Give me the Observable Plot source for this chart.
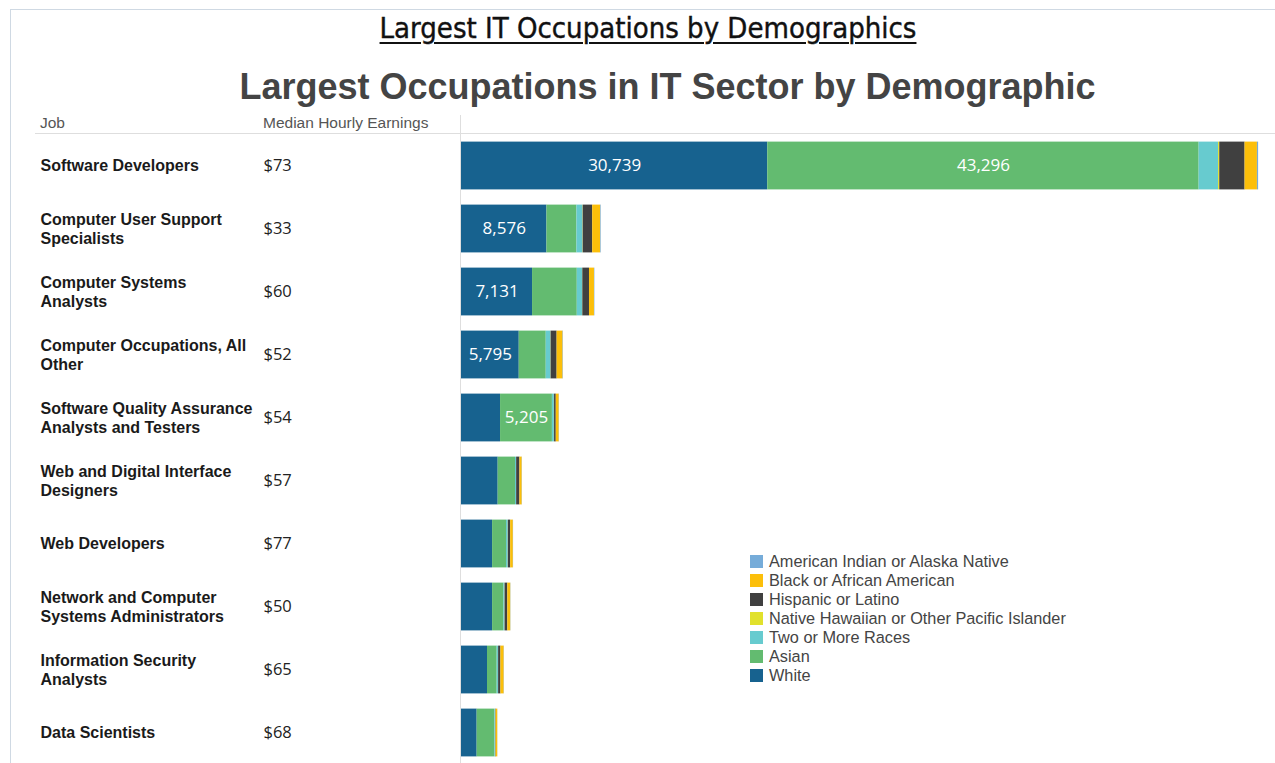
<!DOCTYPE html>
<html>
<head>
<meta charset="utf-8">
<script src="https://cdn.jsdelivr.net/npm/d3@7"></script>
<script src="https://cdn.jsdelivr.net/npm/@observablehq/plot@0.6"></script>
<style>
  html, body { margin: 0; padding: 0; background: #fff; }
  #page { position: relative; width: 1275px; height: 763px; overflow: hidden; background: #fff; }
  #frame { position: absolute; left: 10px; top: 9px; width: 1280px; height: 800px; border-left: 1px solid #cfd9e3; border-top: 1px solid #cfd9e3; }
  #title { position: absolute; left: 0; width: 1296px; top: 11px; text-align: center; font-family: "Liberation Sans Narrow", "DejaVu Sans Condensed", "Liberation Sans", sans-serif; font-size: 29px; font-weight: 500; color: #111; text-decoration: underline; text-decoration-thickness: 2px; text-underline-offset: 4px; -webkit-text-stroke: 0.4px #111; }
  #subtitle { position: absolute; left: 0; width: 1335px; top: 66px; text-align: center; font-family: "Liberation Sans", Arial, sans-serif; font-weight: bold; font-size: 36px; color: #444; }
  .hdr { position: absolute; top: 114px; font-family: "Liberation Sans", Arial, sans-serif; font-size: 15.5px; color: #555; }
  #hline { position: absolute; left: 35px; top: 133px; width: 1240px; height: 1px; background: #dedede; }
  #vline { position: absolute; left: 460px; top: 115px; width: 1px; height: 660px; background: #dedede; z-index: 2; }
  #chart { position: absolute; left: 0; top: 133px; }
  #legend { position: absolute; left: 750px; top: 552px; font-family: "Liberation Sans", Arial, sans-serif; font-size: 16.3px; color: #444; }
  .item { display: flex; align-items: center; height: 19px; }
  .sw { width: 13px; height: 13px; margin-right: 6px; }
</style>
</head>
<body>
<div id="page">
  <div id="frame"></div>
  <div id="title">Largest IT Occupations by Demographics</div>
  <div id="subtitle">Largest Occupations in IT Sector by Demographic</div>
  <div class="hdr" style="left:40px">Job</div>
  <div class="hdr" style="left:263px">Median Hourly Earnings</div>
  <div id="hline"></div>
  <div id="chart"></div>
  <div id="vline"></div>
  <div id="legend"></div>
</div>
<script>
// ---- data ----
const jobs = [
  "Software Developers",
  "Computer User Support\nSpecialists",
  "Computer Systems\nAnalysts",
  "Computer Occupations, All\nOther",
  "Software Quality Assurance\nAnalysts and Testers",
  "Web and Digital Interface\nDesigners",
  "Web Developers",
  "Network and Computer\nSystems Administrators",
  "Information Security\nAnalysts",
  "Data Scientists"
];
const earnings = ["$73", "$33", "$60", "$52", "$54", "$57", "$77", "$50", "$65", "$68"];

// stack order (left to right)
const races = ["White", "Asian", "Two or More Races", "Native Hawaiian or Other Pacific Islander", "Hispanic or Latino", "Black or African American", "American Indian or Alaska Native"];
const white          = [30739, 8576, 7131, 5795, 3920, 3680, 3120, 3120, 2610, 1570];
const asian          = [43296, 3010, 4490, 2710, 5205, 1740, 1400, 1140, 970, 1770];
const twoOrMore      = [1950, 600, 530, 470, 200, 100, 170, 100, 130, 70];
const nativeHawaiian = [120, 30, 25, 20, 15, 15, 15, 15, 15, 10];
const hispanic       = [2540, 950, 670, 600, 170, 330, 230, 270, 230, 50];
const black          = [1240, 800, 500, 600, 300, 230, 270, 300, 330, 170];
const americanIndian = [120, 60, 40, 40, 20, 20, 20, 20, 20, 10];
const series = [white, asian, twoOrMore, nativeHawaiian, hispanic, black, americanIndian];

// legend order & colours
const legendOrder = ["American Indian or Alaska Native", "Black or African American", "Hispanic or Latino", "Native Hawaiian or Other Pacific Islander", "Two or More Races", "Asian", "White"];
const legendColors = ["#76acd9", "#fcbf0a", "#404040", "#e1e12c", "#67cbcf", "#63bb70", "#17628f"];

// ---- tidy table ----
const rows = [];
jobs.forEach((job, i) => {
  races.forEach((race, k) => rows.push({job, race, value: series[k][i]}));
});
const jobRows = jobs.map((job, i) => ({job, earn: earnings[i]}));

const fmt = d3.format(",");

const chart = Plot.plot({
  width: 1275,
  height: 632,
  marginLeft: 461,
  marginRight: 0,
  marginTop: 0,
  marginBottom: 0,
  x: {domain: [0, 81700], axis: null},
  y: {domain: jobs, padding: 0, axis: null},
  color: {domain: legendOrder, range: legendColors},
  style: {background: "transparent", overflow: "visible"},
  marks: [
    Plot.barX(rows, {x: "value", y: "job", fill: "race", order: races, insetTop: 7.6, insetBottom: 7.6}),
    Plot.text(rows, Plot.stackX({
      x: "value", y: "job", z: "race", order: races,
      text: d => d.value >= 5000 ? fmt(d.value) : null,
      fill: "white", fontSize: 17, fontFamily: "'Open Sans', sans-serif"
    })),
    Plot.text(jobRows, {
      y: "job", text: "job", frameAnchor: "left", dx: -421, dy: -1, textAnchor: "start",
      fontWeight: "bold", fontSize: 16, lineHeight: 1.2, fill: "#1a1a1a",
      fontFamily: "'Liberation Sans', Arial, sans-serif"
    }),
    Plot.text(jobRows, {
      y: "job", text: "earn", frameAnchor: "left", dx: -198, textAnchor: "start",
      fontSize: 16.5, fill: "#222", fontFamily: "'Open Sans', sans-serif"
    })
  ]
});
document.getElementById("chart").appendChild(chart);

// legend
const legend = document.getElementById("legend");
legendOrder.forEach((name, i) => {
  const it = document.createElement("div");
  it.className = "item";
  it.innerHTML = `<span class="sw" style="background:${legendColors[i]}"></span><span>${name}</span>`;
  legend.appendChild(it);
});
</script>
</body>
</html>
